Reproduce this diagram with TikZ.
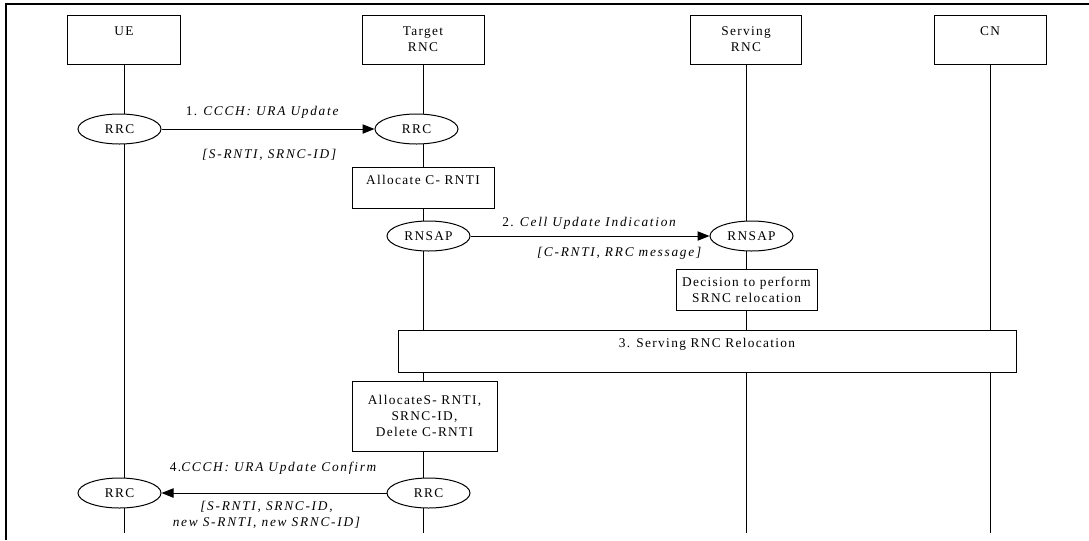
\documentclass[tikz,border=0pt]{standalone}
\usepackage{fontspec}
\setmainfont{Liberation Serif}[LetterSpace=10, ItalicFeatures={LetterSpace=13}]
\usepackage{tikz}
\usetikzlibrary{shapes,arrows.meta,positioning,calc}
\tikzset{
	actor/.style = {draw, fill=white, rectangle, align=center, minimum height=36.75pt, minimum width=85pt},
	block/.style = {draw, fill=white, rectangle, align=center, inner sep=1pt},
	proto/.style = {draw, fill=white, ellipse, inner sep=0pt, minimum width=62.25pt, minimum height=22.5pt},
	lifeline/.style = {draw, line width=0.75pt},
	msg/.style = {draw, line width=0.75pt, -{Triangle[length=9pt,width=7pt]}},
	coord/.style = {coordinate}
}

\begin{document}
\begin{tikzpicture}[x=0.75pt, y=-0.75pt, line width=0.75pt]
		\useasboundingbox (0,0) rectangle (1089,540);
		\draw [line width=1pt] (1089,4) -- (6,4) -- (6,540);
		\node [actor] (ue) at (124,39.5) {UE\\\mbox{}};
		\node [actor, minimum width=91.5pt] (trnc) at (423,39.5) {Target\\RNC};
		\node [actor, minimum width=83.25pt] (srnc) at (746,39.5) {Serving\\RNC};
		\node [actor, minimum width=84pt] (cn) at (990,39.5) {CN\\\mbox{}};
		\node [coord] (bottom) at (0,533) {};
		\foreach \n in {ue,trnc,srnc,cn}
			\draw [lifeline] (\n.south) -- (\n.south |- bottom);
		\node [proto] (rrc1) at (119.5,129) {RRC};
		\node [proto] (rrc2) at (416.5,129) {RRC};
		\node [block, minimum width=106.5pt, minimum height=30.75pt] (allocc) at (423,187.5) {Allocate C- RNTI\\\mbox{}};
		\node [proto] (rnsap1) at (428.5,236) {RNSAP};
		\node [proto] (rnsap2) at (751.5,236) {RNSAP};
		\node [block, minimum width=105.75pt, minimum height=30.75pt] (decide) at (746.5,289.5) {Decision to perform\\SRNC relocation};
		\node [block, minimum width=463.5pt, minimum height=31.5pt] (reloc) at (707,351) {3. Serving RNC Relocation\\\mbox{}};
		\node [block, minimum width=108.75pt, minimum height=52.5pt] (allocs) at (424.5,416) {AllocateS- RNTI,\\SRNC-ID,\\Delete C-RNTI};
		\node [proto] (rrc3) at (428.5,493) {RRC};
		\node [proto] (rrc4) at (119.5,493) {RRC};
		\draw [msg] (rrc1) -- node[yshift=12.75pt, xshift=-3.75pt]{1. \textit{CCCH: URA Update}} node[yshift=-19.5pt, xshift=1.5pt]{\textit{[S-RNTI, SRNC-ID]}} (rrc2);
		\draw [msg] (rnsap1) -- node[yshift=9.75pt]{2. \textit{Cell Update Indication}} node[yshift=-12.75pt, xshift=22.5pt]{\textit{[C-RNTI, RRC message]}} (rnsap2);
		\draw [msg] (rrc3) -- node[yshift=18.75pt]{4.\textit{CCCH: URA Update Confirm}} node[yshift=-16.5pt, xshift=-5pt, align=center]{\textit{[S-RNTI, SRNC-ID,}\\\textit{new S-RNTI, new SRNC-ID]}} (rrc4);
	    \end{tikzpicture}
\end{document}
